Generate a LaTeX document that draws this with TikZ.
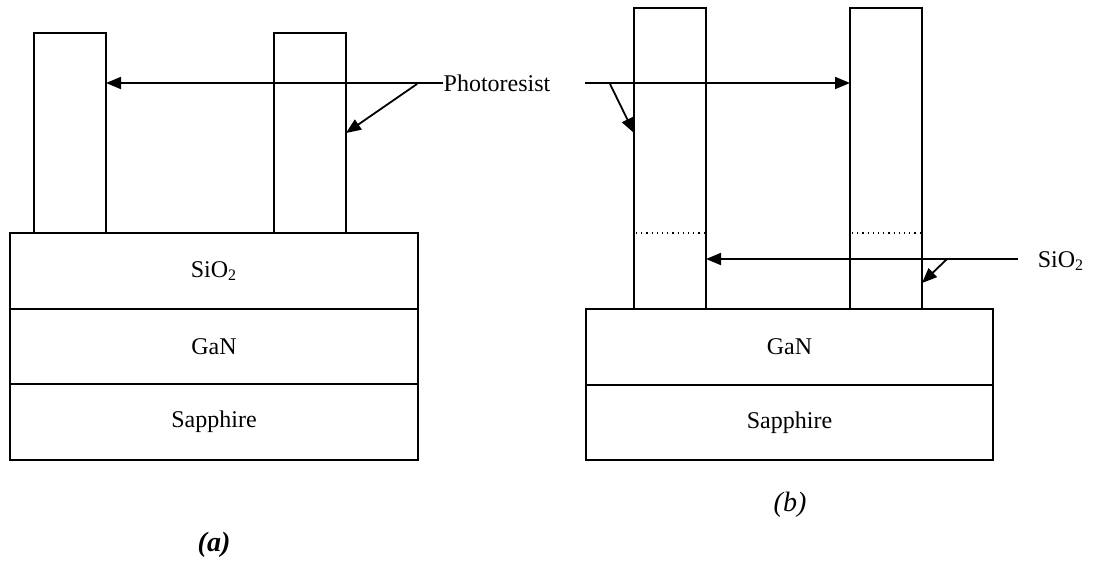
\documentclass[tikz,border=0pt]{standalone}
\usepackage{fontspec}
\setmainfont{Liberation Serif}
\usetikzlibrary{arrows.meta,calc,positioning}
\tikzstyle{layer}  =[draw, line width=1pt, inner sep=0pt,
                     outer sep=0pt, minimum height=37.75pt,
                     font=\fontsize{12}{14}\selectfont]
\tikzstyle{pillar} =[draw, line width=1pt, inner sep=0pt,
                     outer sep=0pt, minimum width=36pt]
\tikzstyle{pointer}=[-{Triangle[length=7.5pt,width=6pt]},
                     line width=0.9pt]
\tikzstyle{tag}    =[inner sep=0pt, font=\fontsize{12}{14}\selectfont]

\begin{document}
\begin{tikzpicture}[x=0.5pt,y=-0.5pt]
    \useasboundingbox (0,0) rectangle (1096,563);

    % (a): photoresist on SiO2
    \node (sioA) [layer, minimum width=204pt] at (214,271) {SiO\textsubscript{2}};
    \node (ganA) [layer, minimum width=204pt, below=0pt of sioA] {GaN};
    \node (sapA) [layer, minimum width=204pt, below=0pt of ganA] {Sapphire};
    \node (pilA1) [pillar, minimum height=100pt] at (70,133) {};
    \node (pilA2) [pillar, minimum height=100pt] at (310,133) {};

    % (b): after etching
    \node (ganB) [layer, minimum width=203.5pt] at (789.5,347) {GaN};
    \node (sapB) [layer, minimum width=203.5pt, below=0pt of ganB] {Sapphire};
    \node (pilB1) [pillar, minimum height=150.5pt] at (670,158.5) {};
    \node (pilB2) [pillar, minimum height=150.5pt] at (886,158.5) {};
    \draw [dotted, line width=0.6pt] (636,233) -- (704,233);
    \draw [dotted, line width=0.6pt] (852,233) -- (920,233);

    % labels
    \node (phot) [tag] at (497,83) {Photoresist};
    \node (sioB) [tag] at (1061,261) {SiO\textsubscript{2}};
    \coordinate (pA) at (417,84);
    \coordinate (pB) at (585,83);
    \coordinate (pC) at (610,84);
    \coordinate (sA) at (1018,259);
    \coordinate (sB) at (947,259);

    \draw [pointer] (phot.west) -- (pilA1.east |- phot.west);
    \draw [pointer] (pA) -- (pilA2.east);
    \draw [pointer] (pB) -- (pilB2.west |- pB);
    \draw [pointer] (pC) -- (pilB1.west |- pilA2.east);
    \draw [pointer] (sA) -- (pilB1.east |- sA);
    \draw [pointer] (sB) -- (pilB2.east |- 0,283);

    \node (capA) [font=\fontsize{14}{16}\selectfont\bfseries\itshape] at (214,545) {(a)};
    \node (capB) [font=\fontsize{14}{16}\selectfont\itshape] at (790,505) {(b)};
\end{tikzpicture}
\end{document}
